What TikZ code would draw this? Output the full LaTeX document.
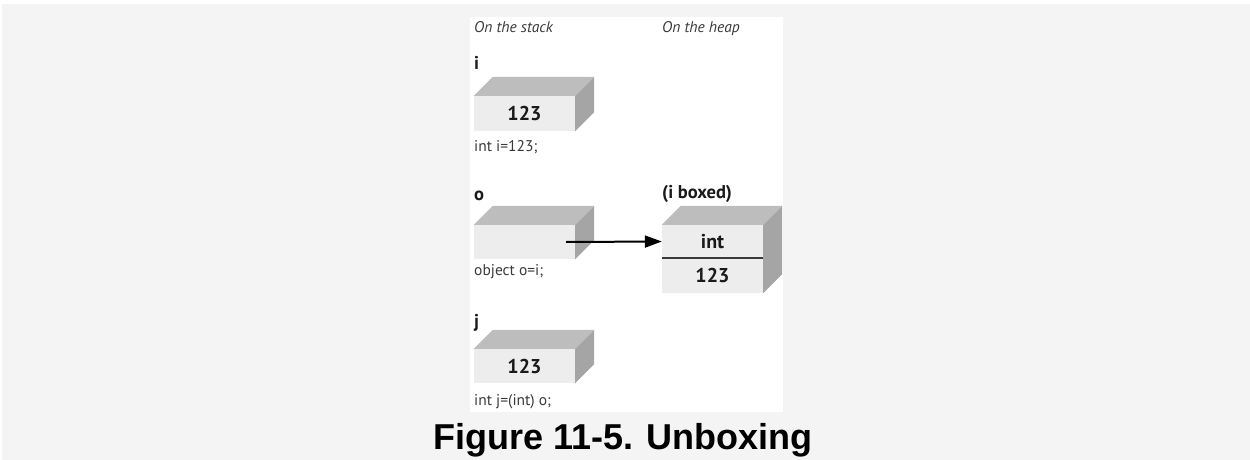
\documentclass[tikz,border=0pt]{standalone}
\usepackage{fontspec}
\usetikzlibrary{arrows.meta,calc}
\newfontfamily\dfont{PT Sans}
\newfontfamily\capfont{Liberation Sans}
\definecolor{pagebg}{HTML}{F4F4F4}
\definecolor{frontc}{HTML}{EDEDED}
\definecolor{topc}{HTML}{BDBDBD}
\definecolor{sidec}{HTML}{A5A5A5}
\definecolor{inkc}{HTML}{1A1A1A}
\definecolor{notec}{HTML}{3A3A3A}
% faces of a solid box: top and right side behind the front face
\newcommand\solidfaces[2]{%
  \fill[topc] (#1.north west) -- ++(19,19) -- ($(#1.north east)+(19,19)$) -- (#1.north east) -- cycle;
  \fill[sidec] (#1.north east) -- ++(19,19) -- ($(#2.south east)+(19,19)$) -- (#2.south east) -- cycle;}
\tikzset{
  front/.style={fill=frontc, minimum width=101pt, inner sep=0pt, text=inkc,
    font=\dfont\bfseries\fontsize{20}{20}\selectfont},
  note/.style={anchor=base west, inner sep=0pt, text=notec,
    font=\dfont\fontsize{15.5}{15.5}\selectfont},
  head/.style={anchor=base west, inner sep=0pt, text=notec,
    font=\dfont\itshape\fontsize{15.5}{15.5}\selectfont},
  var/.style={anchor=base west, inner sep=0pt, text=inkc,
    font=\dfont\bfseries\fontsize{18.5}{18.5}\selectfont},
  ptr/.style={-{Triangle[length=17pt,width=12pt]}, line width=2pt, draw=black}
}
\begin{document}
\begin{tikzpicture}[x=1pt,y=1pt]
\useasboundingbox (0,0) rectangle (1250,-460);
\fill[white] (0,0) rectangle (1250,-460);
\fill[pagebg] (2,-4) rectangle (1250,-460);
\fill[white] (470,-17) rectangle (783,-412);

% column headings
\node[head] (hstack) at (474,-33) {On the stack};
\node[head] (hheap) at (662,-33) {On the heap};

% i on the stack
\node[var] (li) at (474,-70) {i};
\node[front, minimum height=35pt] (ibox) at (524.5,-113.5) {123};
\solidfaces{ibox}{ibox}
\node[note] (ci) at (474,-151) {int i=123;};

% o on the stack
\node[var] (lo) at (474,-200) {o};
\node[front, minimum height=34pt] (obox) at (524.5,-242) {};
\solidfaces{obox}{obox}
\node[note] (co) at (474,-275) {object o=i;};

% boxed copy on the heap
\node[var] (lh) at (662,-198) {(i boxed)};
\node[front, minimum height=33pt] (hint) at (712.5,-241.5) {int};
\node[front, minimum height=35pt] (hval) at (712.5,-275.5) {123};
\solidfaces{hint}{hval}
\draw[line width=1.5pt, draw=notec] (hint.south west) -- (hint.south east);

% reference from o to the boxed value
\coordinate (optr) at ($(obox.east)+(-9,0)$);
\draw[ptr] (optr) -- (hint.west);

% j on the stack
\node[var] (lj) at (474,-327) {j};
\node[front, minimum height=34pt] (jbox) at (524.5,-366) {123};
\solidfaces{jbox}{jbox}
\node[note] (cj) at (474,-405) {int j=(int) o;};

% caption
\node[anchor=base, inner sep=0pt, font=\capfont\bfseries\fontsize{36}{36}\selectfont, text=black]
  (cap) at (623,-449) {Figure 11-5. Unboxing};
\end{tikzpicture}
\end{document}
